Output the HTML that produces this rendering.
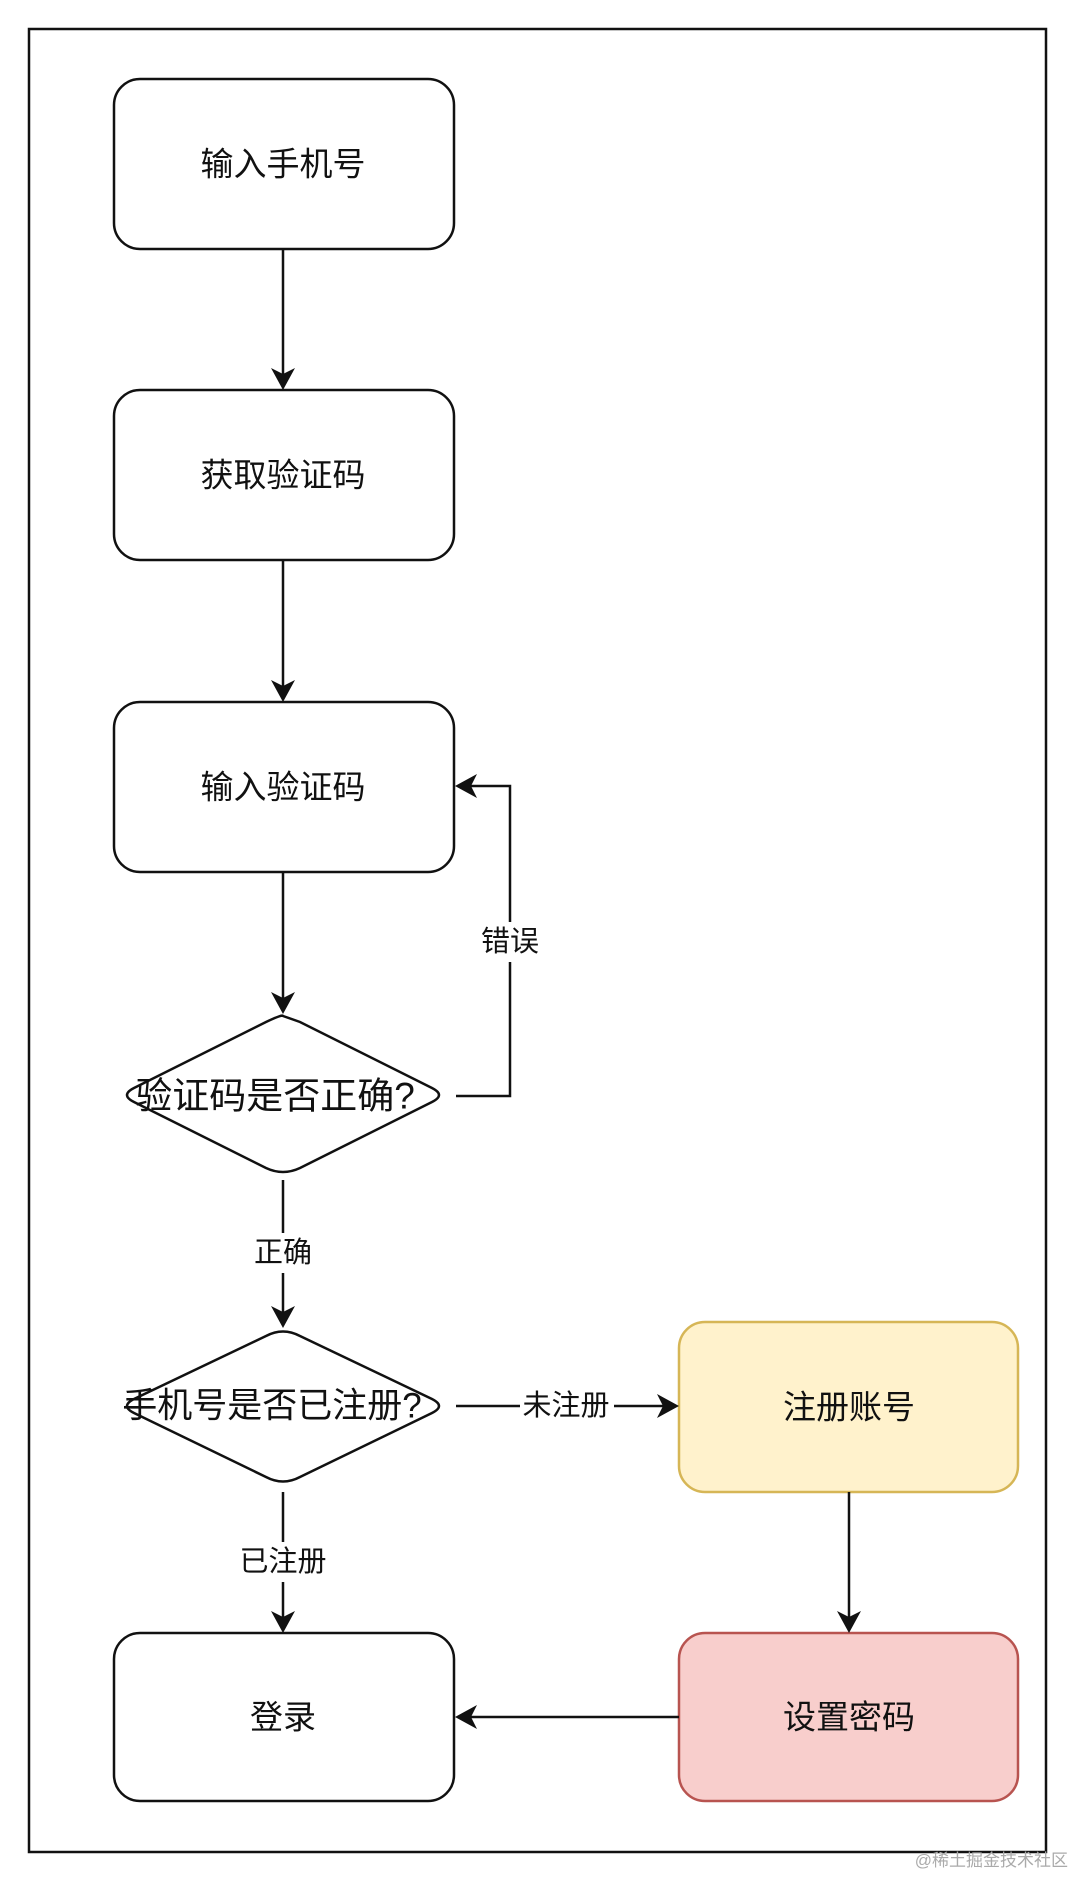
<!DOCTYPE html>
<html><head><meta charset="utf-8"><style>
html,body{margin:0;padding:0;background:#fff;}
svg{display:block;}
text{font-family:"Liberation Sans","Noto Sans CJK SC",sans-serif;fill:#111;}
</style></head><body>
<svg width="1080" height="1888" viewBox="0 0 1080 1888" xmlns="http://www.w3.org/2000/svg">
<defs>
<marker id="a" markerWidth="12" markerHeight="12" refX="11" refY="6" orient="auto" markerUnits="userSpaceOnUse" viewBox="0 0 12 12">
</marker>
</defs>
<rect x="29" y="29" width="1017" height="1823" fill="none" stroke="#111" stroke-width="2.5"/>
<g stroke="#111" stroke-width="2.5" fill="#fff">
<rect x="114" y="79" width="340" height="170" rx="26"/>
<rect x="114" y="390" width="340" height="170" rx="26"/>
<rect x="114" y="702" width="340" height="170" rx="26"/>
<rect x="114" y="1633" width="340" height="168" rx="26"/>
<path d="M283 1016 Q283 1016 300 1022 L432 1088 Q446 1095 432 1102 L300 1168 Q283 1176 266 1168 L134 1102 Q120 1095 134 1088 L266 1022 Q283 1014 283 1016Z"/>
<path d="M266 1336 Q283 1327 300 1336 L432 1399 Q446 1406 432 1413 L300 1477 Q283 1486 266 1477 L134 1413 Q120 1406 134 1399 Z"/>
</g>
<rect x="679" y="1322" width="339" height="170" rx="26" fill="#fff2cc" stroke="#d6b656" stroke-width="2.5"/>
<rect x="679" y="1633" width="339" height="168" rx="26" fill="#f8cecc" stroke="#b85450" stroke-width="2.5"/>
<g stroke="#111" stroke-width="2.5" fill="none">
<line x1="283" y1="249" x2="283" y2="378"/>
<line x1="283" y1="560" x2="283" y2="690"/>
<line x1="283" y1="872" x2="283" y2="1004"/>
<polyline points="456,1096 510,1096 510,786 468,786"/>
<line x1="283" y1="1180" x2="283" y2="1316"/>
<line x1="283" y1="1492" x2="283" y2="1621"/>
<line x1="456" y1="1406" x2="667" y2="1406"/>
<line x1="849" y1="1492" x2="849" y2="1621"/>
<line x1="679" y1="1717" x2="468" y2="1717"/>
</g>
<g fill="#111">
<path d="M283 390 L271 368 L283 374 L295 368Z"/>
<path d="M283 702 L271 680 L283 686 L295 680Z"/>
<path d="M283 1014 L271 992 L283 998 L295 992Z"/>
<path d="M283 1328 L271 1306 L283 1312 L295 1306Z"/>
<path d="M283 1633 L271 1611 L283 1617 L295 1611Z"/>
<path d="M849 1633 L837 1611 L849 1617 L861 1611Z"/>
<path d="M679 1406 L657 1394 L663 1406 L657 1418Z"/>
<path d="M455 786 L477 774 L471 786 L477 798Z"/>
<path d="M455 1717 L477 1705 L471 1717 L477 1729Z"/>
</g>
<g font-size="33" text-anchor="middle" dominant-baseline="central">
<text x="283" y="164">输入手机号</text>
<text x="283" y="475">获取验证码</text>
<text x="283" y="787">输入验证码</text>
<text x="283" y="1717">登录</text>
<text x="849" y="1407">注册账号</text>
<text x="849" y="1717">设置密码</text>
<text x="275" y="1096" font-size="37">验证码是否正确?</text>
<text x="272" y="1406" font-size="35">手机号是否已注册?</text>
</g>
<g font-size="29" text-anchor="middle" dominant-baseline="central">
<rect x="478" y="922" width="64" height="40" fill="#fff"/>
<text x="510" y="942">错误</text>
<rect x="250" y="1233" width="66" height="40" fill="#fff"/>
<text x="283" y="1253">正确</text>
<rect x="236" y="1542" width="94" height="40" fill="#fff"/>
<text x="283" y="1562">已注册</text>
<rect x="520" y="1386" width="94" height="40" fill="#fff"/>
<text x="566" y="1406">未注册</text>
</g>
<text x="1068" y="1866" font-size="17" text-anchor="end" style="fill:#aaa">@稀土掘金技术社区</text>
</svg>
</body></html>
